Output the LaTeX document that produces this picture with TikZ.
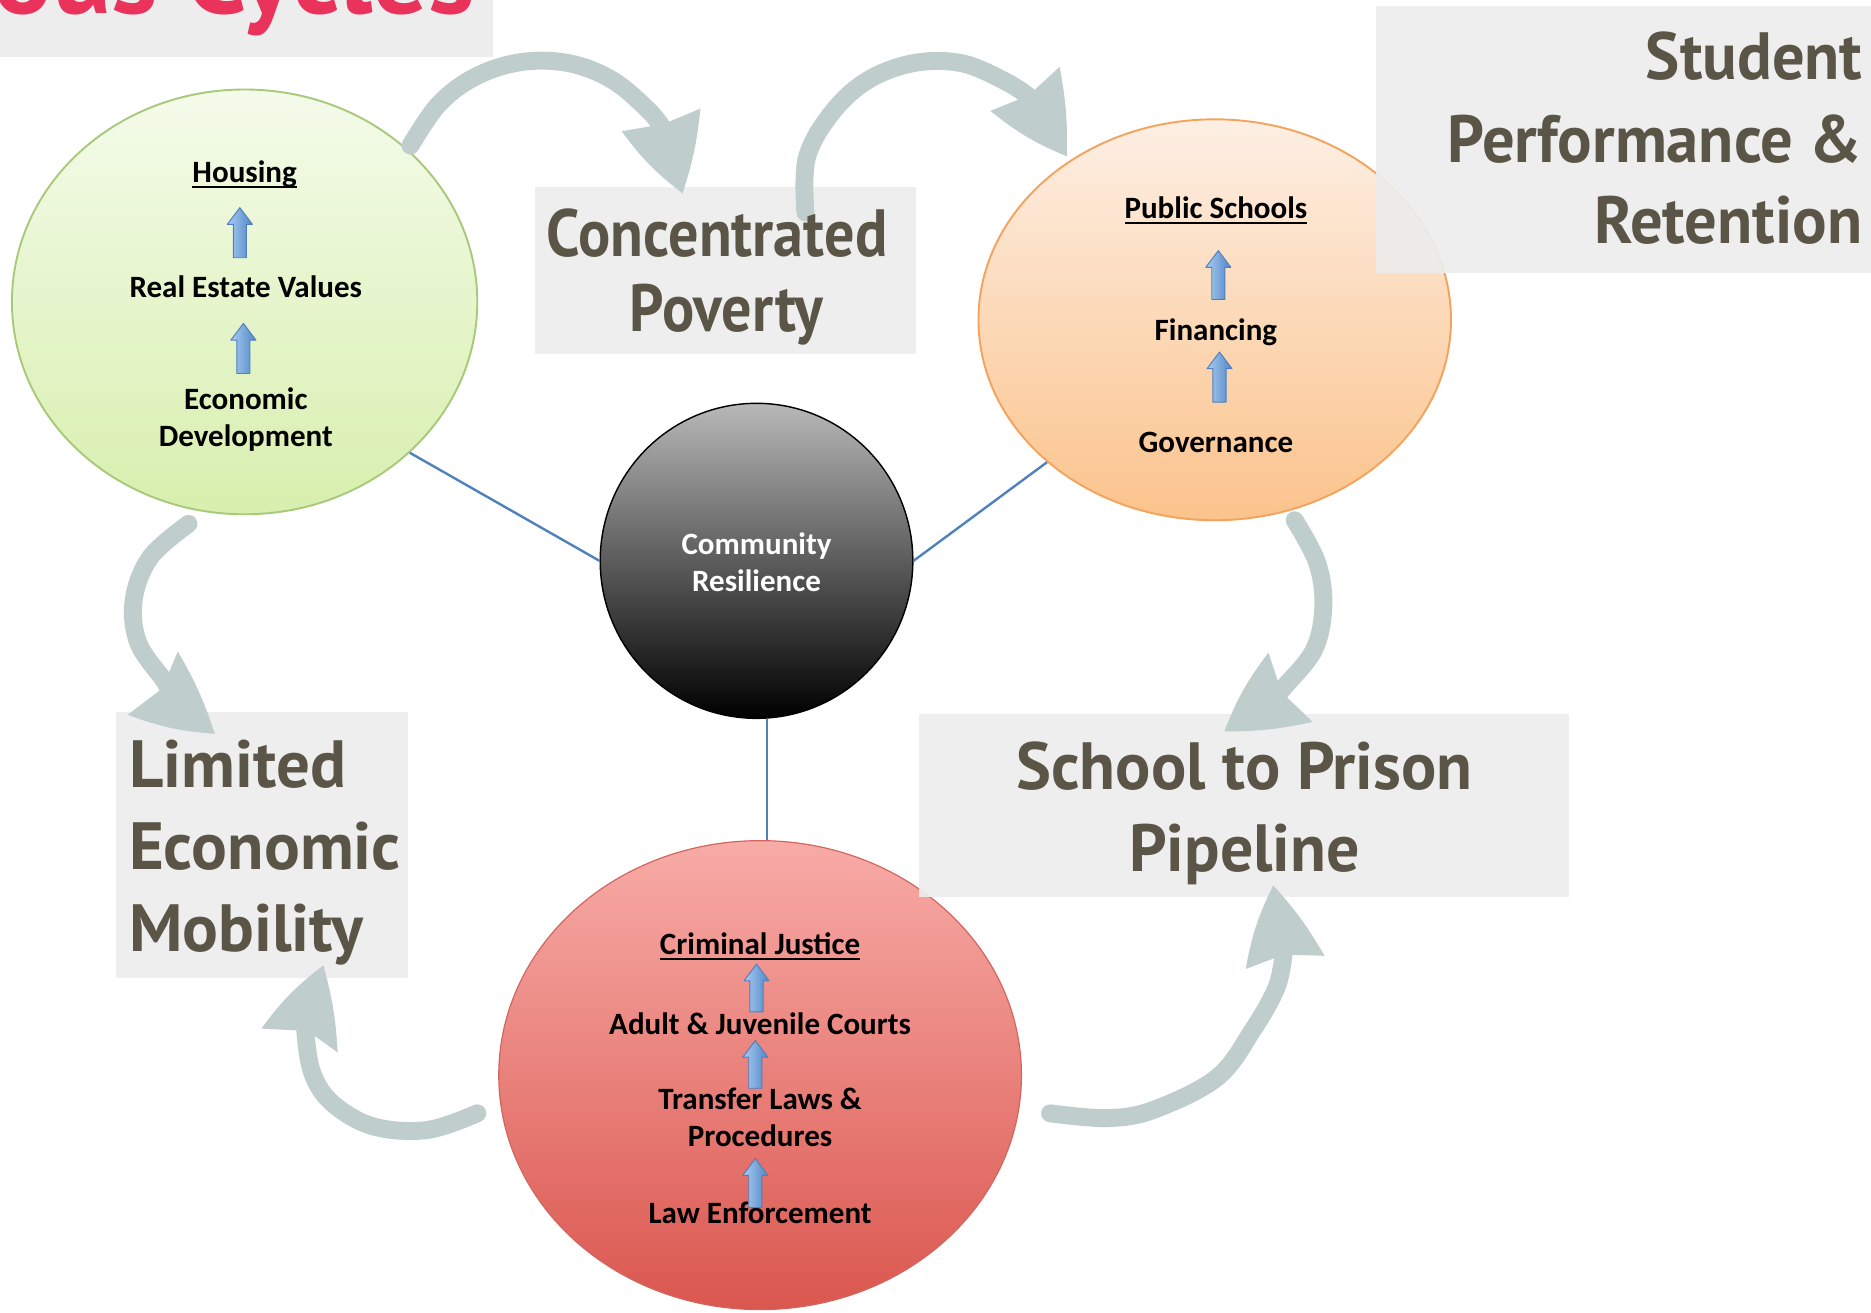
\documentclass[tikz,border=0pt]{standalone}
\usepackage{fontspec}
\usepackage{graphicx}
\setmainfont{Carlito}
\newfontfamily\lblfont{PT Sans}
\usetikzlibrary{shapes.geometric}
\definecolor{boxgray}{HTML}{EDEDED}
\definecolor{arrgray}{HTML}{BFCDCC}
\definecolor{lbltext}{HTML}{5A5546}
\definecolor{titlered}{HTML}{E9335B}
\definecolor{linkblue}{HTML}{4F81BD}
\definecolor{gTop}{HTML}{F4FBEA}
\definecolor{gBot}{HTML}{D8EFAE}
\definecolor{gEdge}{HTML}{A9C97A}
\definecolor{oTop}{HTML}{FDEFE4}
\definecolor{oBot}{HTML}{FBC38C}
\definecolor{oEdge}{HTML}{F4A35C}
\definecolor{rTop}{HTML}{F8ABA7}
\definecolor{rBot}{HTML}{DA574F}
\definecolor{rEdge}{HTML}{D2665F}
\definecolor{bTop}{HTML}{B8B8B8}
\definecolor{baLeft}{HTML}{AACCF0}
\definecolor{baRight}{HTML}{4F86C6}
\definecolor{baEdge}{HTML}{4F7FBF}
\newcommand\ulx[1]{\setbox0\hbox{#1}\rlap{\rule[-4.8pt]{\wd0}{1.6pt}}\box0}
\newcommand\nrw[2]{\scalebox{#1}[1]{#2}}
\newcommand\blockup[3]{%
  \draw[blockarr] (#1,#2) -- (#1-10.5,#2+14) -- (#1-5.5,#2+14) -- (#1-5.5,#3)
     -- (#1+5.5,#3) -- (#1+5.5,#2+14) -- (#1+10.5,#2+14) -- cycle;}
\tikzset{
  circ/.style={ellipse, inner sep=0pt, line width=1.6pt},
  ctext/.style={font=\fontsize{26}{30}\selectfont\bfseries, text=black, inner sep=0pt},
  lbl/.style={font=\lblfont\bfseries\fontsize{56}{68}\selectfont, text=lbltext, inner sep=0pt},
  graybox/.style={fill=boxgray, draw=none, fill opacity=0.92},
  shaft/.style={draw=arrgray, line width=15pt, line cap=round, line join=round},
  head/.style={fill=arrgray, draw=none},
  link/.style={draw=linkblue, line width=2pt},
  blockarr/.style={left color=baLeft, right color=baRight, draw=baEdge, line width=0.8pt, line join=round}
}
\begin{document}
\begin{tikzpicture}[x=1pt,y=-1pt]
\useasboundingbox (0,0) rectangle (1568,1100);
\clip (0,0) rectangle (1568,1100);
\fill[white] (0,0) rectangle (1568,1100);

% title box
\fill[boxgray] (0,-5) rectangle (413,48);
\node[font=\lblfont\bfseries\fontsize{92}{100}\selectfont, text=titlered, inner sep=0pt, anchor=base west] (title) at (-6,11) {ous Cycles};

% circles
\node[circ, minimum width=390pt, minimum height=356pt, top color=gTop, bottom color=gBot, draw=gEdge] (housing) at (205,253) {};
\node[circ, minimum width=396pt, minimum height=336pt, top color=oTop, bottom color=oBot, draw=oEdge] (schools) at (1018,268) {};
\node[circ, minimum width=262pt, minimum height=264pt, top color=bTop, bottom color=black, draw=black, line width=1.2pt] (comm) at (634,470) {};
\node[circ, minimum width=438pt, minimum height=393pt, top color=rTop, bottom color=rBot, draw=rEdge, line width=1pt] (justice) at (637,901) {};

% blue links
\draw[link] (housing.south east) -- (comm.west);
\draw[link] (schools.south west) -- (comm.east);
\draw[link] ([xshift=9pt]comm.south) -- ([xshift=9pt]comm.south |- justice.north);

% label boxes
\node[graybox, minimum width=320pt, minimum height=140pt, inner sep=0pt] (cpbox) at (608,227) {};
\node[graybox, minimum width=420pt, minimum height=224pt, inner sep=0pt] (spbox) at (1363,117) {};
\node[graybox, minimum width=245pt, minimum height=223pt, inner sep=0pt] (lembox) at (219.5,708.5) {};
\node[graybox, minimum width=545pt, minimum height=154pt, inner sep=0pt] (stpbox) at (1042.5,675) {};

% grey cycle arrows
\coordinate (a1s) at (344,122);
\coordinate (a2s) at (675,178);
\coordinate (a3s) at (1085,436);
\coordinate (a4s) at (880,933);
\coordinate (a5s) at (400,933);
\coordinate (a6s) at (158,439);

\draw[shaft] plot[smooth, tension=0.6] coordinates {(a1s) (368,87) (399,64) (437,52) (477,53) (513,67) (543,92) (556,108)};
\fill[head] (521,110) to[bend right=8] (572,162) to[bend right=6] (587,91) -- (556,104) -- cycle;

\draw[shaft] plot[smooth, tension=0.6] coordinates {(a2s) (676,133) (696,96) (726,68) (765,53) (806,53) (844,69) (865,83)};
\fill[head] (830,93) to[bend right=8] (894,131) to[bend right=6] (888,56) -- (862,80) -- cycle;

\draw[shaft] plot[smooth, tension=0.6] coordinates {(a3s) (1104,472) (1109,509) (1101,545) (1076,576) (1070,584)};
\fill[head] (1063,547) to[bend right=8] (1026,613) to[bend right=6] (1100,605) -- (1074,580) -- cycle;

\draw[shaft] plot[smooth, tension=0.6] coordinates {(a4s) (928,937) (967,930) (1020,903) (1050,863) (1070,827) (1076,797)};
\fill[head] (1044,812) to[bend left=8] (1067,742) to[bend left=6] (1110,801) -- (1076,800) -- cycle;

\draw[shaft] plot[smooth, tension=0.6] coordinates {(a5s) (358,947) (313,944) (279,925) (262,900) (256,866) (258,860)};
\fill[head] (219,862) to[bend left=8] (271,809) to[bend left=6] (283,882) -- (258,864) -- cycle;

\draw[shaft] plot[smooth, tension=0.6] coordinates {(a6s) (126,467) (112,503) (116,539) (138,571) (141,579)};
\fill[head] (107,599) to[bend right=8] (180,615) to[bend right=6] (149,546) -- (136,577) -- cycle;

% label texts
\node[lbl, anchor=base] (cp1) at (601,215) {\nrw{0.9}{Concentrated}};
\node[lbl, anchor=base] (cp2) at (609,278) {\nrw{0.9}{Poverty}};
\node[lbl, anchor=base east] (sp1) at (1561,67) {\nrw{0.965}{Student}};
\node[lbl, anchor=base east] (sp2) at (1561,136) {\nrw{0.965}{Performance \&}};
\node[lbl, anchor=base east] (sp3) at (1561,204) {\nrw{0.965}{Retention}};
\node[lbl, anchor=base west] (lem1) at (108,660) {Limited};
\node[lbl, anchor=base west] (lem2) at (108,729) {Economic};
\node[lbl, anchor=base west] (lem3) at (108,797) {Mobility};
\node[lbl, anchor=base] (stp1) at (1043,662) {\nrw{0.985}{School to Prison}};
\node[lbl, anchor=base] (stp2) at (1043,730) {\nrw{0.985}{Pipeline}};

% housing texts
\node[ctext, anchor=base] (h1) at (205,153) {\ulx{Housing}};
\node[ctext, anchor=base] (h2) at (206,249) {Real Estate Values};
\node[ctext, anchor=base] (h3) at (206,343) {Economic};
\node[ctext, anchor=base] (h4) at (206,374) {Development};
\blockup{201}{174}{216}
\blockup{204}{271}{313}

% schools texts
\node[ctext, anchor=base] (s1) at (1019,183) {\ulx{Public Schools}};
\node[ctext, anchor=base] (s2) at (1019,285) {Financing};
\node[ctext, anchor=base] (s3) at (1019,379) {Governance};
\blockup{1021}{210}{251}
\blockup{1022}{295}{337}

% community
\node[ctext, text=white, anchor=base] (c1) at (634,465) {Community};
\node[ctext, text=white, anchor=base] (c2) at (634,496) {Resilience};

% justice texts
\node[ctext, anchor=base] (j1) at (637,800) {\ulx{Criminal Justice}};
\node[ctext, anchor=base] (j2) at (637,867) {Adult \& Juvenile Courts};
\node[ctext, anchor=base] (j3) at (637,930) {Transfer Laws \&};
\node[ctext, anchor=base] (j4) at (637,961) {Procedures};
\node[ctext, anchor=base] (j5) at (637,1025) {Law Enforcement};
\blockup{634}{808}{848}
\blockup{633}{872}{912}
\blockup{633}{971}{1012}
\end{tikzpicture}
\end{document}
